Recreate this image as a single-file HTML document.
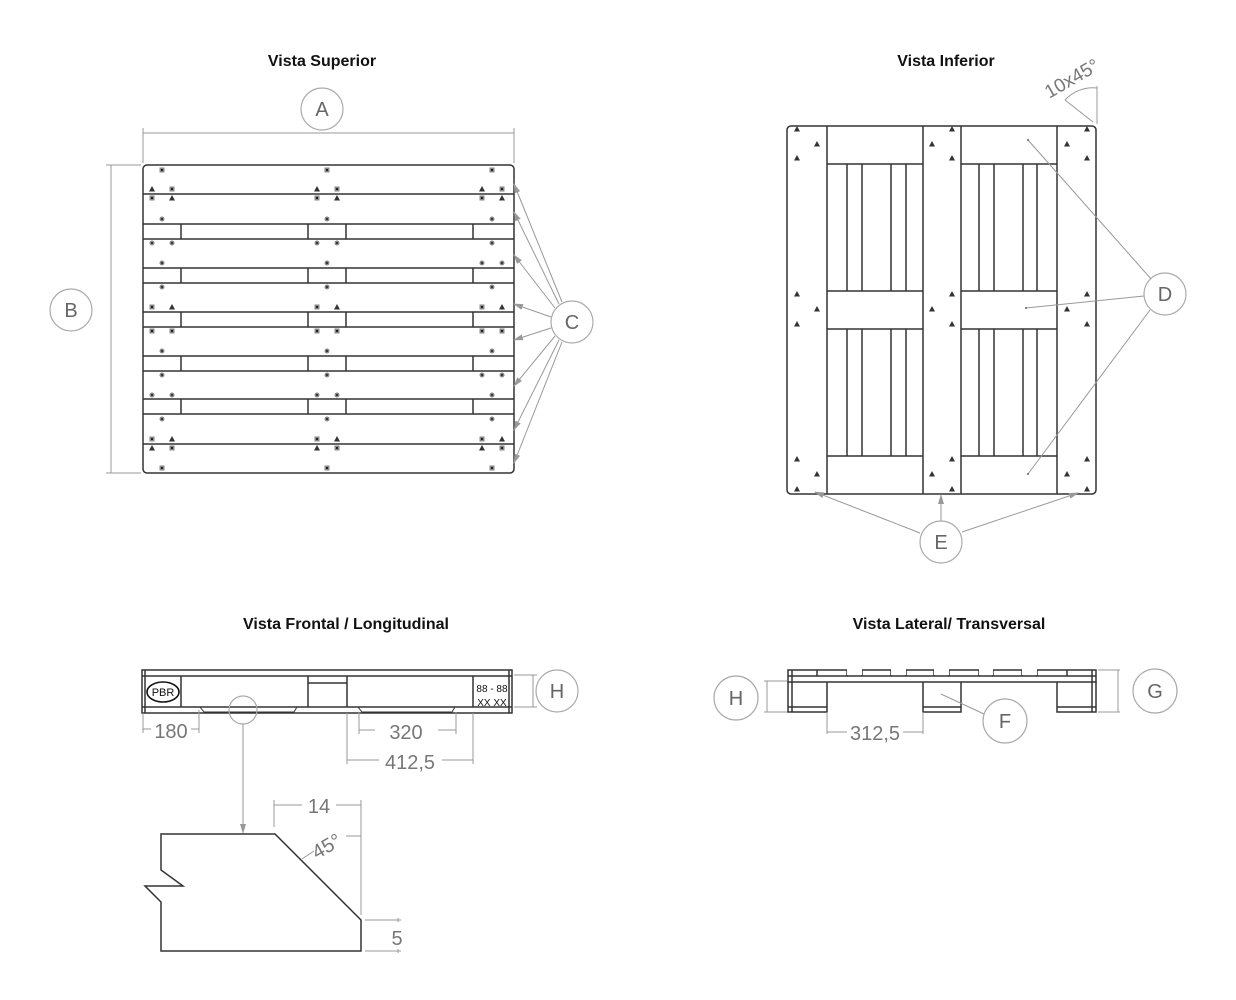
<!DOCTYPE html>
<html><head><meta charset="utf-8"><style>
html,body{margin:0;padding:0;background:#fff;}
svg{display:block;}
.t{font-family:"Liberation Sans",sans-serif;font-weight:bold;font-size:16px;fill:#111;text-anchor:middle;}
.c{fill:#fff;stroke:#aaa;stroke-width:1.2;}
.cl{font-family:"Liberation Sans",sans-serif;font-size:20px;fill:#666;text-anchor:middle;}
.d{font-family:"Liberation Sans",sans-serif;font-size:20px;fill:#777;text-anchor:middle;}
.k{stroke:#333;stroke-width:1.5;fill:none;}
.g{stroke:#999;stroke-width:1;fill:none;}
</style></head><body>
<svg width="1236" height="1000" viewBox="0 0 1236 1000" xmlns="http://www.w3.org/2000/svg">
<defs>
<marker id="ar" markerWidth="10" markerHeight="6" refX="9" refY="3" orient="auto" markerUnits="userSpaceOnUse"><path d="M0,0 L10,3 L0,6z" fill="#999"/></marker>
<g id="sq"><rect x="-2.5" y="-2.5" width="5" height="5" fill="#888"/><rect x="-1" y="-1" width="2" height="2" fill="#222"/></g>
<g id="dt"><circle r="2.5" fill="#888"/><circle r="1" fill="#222"/></g>
<g id="tr"><path d="M0,-3 L3,2.5 L-3,2.5z" fill="#333"/></g>
</defs>

<text class="t" x="322" y="66">Vista Superior</text>
<text class="t" x="946" y="66">Vista Inferior</text>
<text class="t" x="346" y="629">Vista Frontal / Longitudinal</text>
<text class="t" x="949" y="629">Vista Lateral/ Transversal</text>

<!-- ===== Vista Superior ===== -->
<line class="g" x1="143" y1="133" x2="514" y2="133"/>
<line class="g" x1="143" y1="128" x2="143" y2="163"/>
<line class="g" x1="514" y1="128" x2="514" y2="163"/>
<circle class="c" cx="322" cy="109" r="21"/><text class="cl" x="322" y="116">A</text>
<line class="g" x1="111" y1="165" x2="111" y2="473"/>
<line class="g" x1="106" y1="165" x2="141" y2="165"/>
<line class="g" x1="106" y1="473" x2="141" y2="473"/>
<circle class="c" cx="71" cy="310" r="21"/><text class="cl" x="71" y="317">B</text>
<rect class="k" x="143" y="165" width="371" height="308" rx="4"/>
<g class="k">
<line x1="143" y1="194" x2="514" y2="194"/>
<line x1="143" y1="224" x2="514" y2="224"/><line x1="143" y1="239" x2="514" y2="239"/>
<line x1="143" y1="268" x2="514" y2="268"/><line x1="143" y1="283" x2="514" y2="283"/>
<line x1="143" y1="312" x2="514" y2="312"/><line x1="143" y1="327" x2="514" y2="327"/>
<line x1="143" y1="356" x2="514" y2="356"/><line x1="143" y1="371" x2="514" y2="371"/>
<line x1="143" y1="399" x2="514" y2="399"/><line x1="143" y1="414" x2="514" y2="414"/>
<line x1="143" y1="444" x2="514" y2="444"/>
<path d="M181,224v15M308,224v15M346,224v15M473,224v15 M181,268v15M308,268v15M346,268v15M473,268v15 M181,312v15M308,312v15M346,312v15M473,312v15 M181,356v15M308,356v15M346,356v15M473,356v15 M181,399v15M308,399v15M346,399v15M473,399v15"/>
</g>
<g>
<use href="#sq" x="162" y="170"/><use href="#sq" x="327" y="170"/><use href="#sq" x="492" y="170"/>
<use href="#tr" x="152" y="189"/><use href="#sq" x="172" y="189"/><use href="#tr" x="317" y="189"/><use href="#sq" x="337" y="189"/><use href="#tr" x="482" y="189"/><use href="#sq" x="502" y="189"/>
<use href="#sq" x="152" y="198"/><use href="#tr" x="172" y="198"/><use href="#sq" x="317" y="198"/><use href="#tr" x="337" y="198"/><use href="#sq" x="482" y="198"/><use href="#tr" x="502" y="198"/>
<use href="#dt" x="162" y="219"/><use href="#dt" x="327" y="219"/><use href="#dt" x="492" y="219"/>
<use href="#dt" x="152" y="243"/><use href="#dt" x="172" y="243"/><use href="#dt" x="317" y="243"/><use href="#dt" x="337" y="243"/><use href="#dt" x="492" y="243"/>
<use href="#dt" x="162" y="263"/><use href="#dt" x="327" y="263"/><use href="#dt" x="482" y="263"/><use href="#dt" x="502" y="263"/>
<use href="#dt" x="162" y="287"/><use href="#dt" x="327" y="287"/><use href="#dt" x="492" y="287"/>
<use href="#sq" x="152" y="307"/><use href="#tr" x="172" y="307"/><use href="#sq" x="317" y="307"/><use href="#tr" x="337" y="307"/><use href="#sq" x="482" y="307"/><use href="#tr" x="502" y="307"/>
<use href="#sq" x="152" y="331"/><use href="#sq" x="172" y="331"/><use href="#sq" x="317" y="331"/><use href="#sq" x="337" y="331"/><use href="#sq" x="482" y="331"/><use href="#sq" x="502" y="331"/>
<use href="#dt" x="162" y="351"/><use href="#dt" x="327" y="351"/><use href="#dt" x="492" y="351"/>
<use href="#dt" x="162" y="375"/><use href="#dt" x="327" y="375"/><use href="#dt" x="482" y="375"/><use href="#dt" x="502" y="375"/>
<use href="#dt" x="152" y="395"/><use href="#dt" x="172" y="395"/><use href="#dt" x="317" y="395"/><use href="#dt" x="337" y="395"/><use href="#dt" x="492" y="395"/>
<use href="#dt" x="162" y="419"/><use href="#dt" x="327" y="419"/><use href="#dt" x="492" y="419"/>
<use href="#sq" x="152" y="439"/><use href="#tr" x="172" y="439"/><use href="#sq" x="317" y="439"/><use href="#tr" x="337" y="439"/><use href="#sq" x="482" y="439"/><use href="#tr" x="502" y="439"/>
<use href="#tr" x="152" y="448"/><use href="#sq" x="172" y="448"/><use href="#tr" x="317" y="448"/><use href="#sq" x="337" y="448"/><use href="#tr" x="482" y="448"/><use href="#sq" x="502" y="448"/>
<use href="#sq" x="162" y="468"/><use href="#sq" x="327" y="468"/><use href="#sq" x="492" y="468"/>
</g>
<g class="g" marker-end="url(#ar)">
<line x1="562" y1="302" x2="514" y2="184"/><line x1="559" y1="304" x2="514" y2="212"/>
<line x1="555" y1="308" x2="514" y2="255"/><line x1="551" y1="317" x2="514" y2="304"/>
<line x1="551" y1="328" x2="514" y2="340"/><line x1="555" y1="336" x2="514" y2="386"/>
<line x1="559" y1="340" x2="514" y2="430"/><line x1="562" y1="342" x2="514" y2="463"/>
</g>
<circle class="c" cx="572" cy="322" r="21"/><text class="cl" x="572" y="329">C</text>

<!-- ===== Vista Inferior ===== -->
<rect class="k" x="787" y="126" width="309" height="368" rx="4"/>
<g class="k">
<path d="M827,126v368M923,126v368M961,126v368M1057,126v368"/>
<path d="M827,164h96M827,291h96M827,329h96M827,456h96M961,164h96M961,291h96M961,329h96M961,456h96"/>
<path d="M847,164v127M862,164v127M891,164v127M906,164v127M847,329v127M862,329v127M891,329v127M906,329v127"/>
<path d="M979,164v127M994,164v127M1023,164v127M1037,164v127M979,329v127M994,329v127M1023,329v127M1037,329v127"/>
</g>
<g>
<use href="#tr" x="797" y="129"/><use href="#tr" x="817" y="144"/><use href="#tr" x="797" y="158"/>
<use href="#tr" x="952" y="129"/><use href="#tr" x="932" y="144"/><use href="#tr" x="952" y="158"/>
<use href="#tr" x="1087" y="129"/><use href="#tr" x="1067" y="144"/><use href="#tr" x="1087" y="158"/>
<use href="#tr" x="797" y="294"/><use href="#tr" x="817" y="309"/><use href="#tr" x="797" y="324"/>
<use href="#tr" x="952" y="294"/><use href="#tr" x="932" y="309"/><use href="#tr" x="952" y="324"/>
<use href="#tr" x="1087" y="294"/><use href="#tr" x="1067" y="309"/><use href="#tr" x="1087" y="324"/>
<use href="#tr" x="797" y="459"/><use href="#tr" x="817" y="474"/><use href="#tr" x="797" y="489"/>
<use href="#tr" x="952" y="459"/><use href="#tr" x="932" y="474"/><use href="#tr" x="952" y="489"/>
<use href="#tr" x="1087" y="459"/><use href="#tr" x="1067" y="474"/><use href="#tr" x="1087" y="489"/>
</g>
<g class="g">
<line x1="1028" y1="140" x2="1152" y2="280"/><line x1="1026" y1="308" x2="1144" y2="296"/><line x1="1028" y1="474" x2="1150" y2="310"/>
</g>
<circle cx="1028" cy="140" r="1" fill="#666"/><circle cx="1026" cy="308" r="1" fill="#666"/><circle cx="1028" cy="474" r="1" fill="#666"/>
<circle class="c" cx="1165" cy="294" r="21"/><text class="cl" x="1165" y="301">D</text>
<g class="g" marker-end="url(#ar)">
<line x1="920" y1="533" x2="815" y2="492"/><line x1="941" y1="521" x2="941" y2="495"/><line x1="962" y1="532" x2="1078" y2="493"/>
</g>
<circle class="c" cx="941" cy="542" r="21"/><text class="cl" x="941" y="549">E</text>
<line class="g" x1="1097" y1="124" x2="1097" y2="86"/>
<line class="g" x1="1093" y1="122" x2="1065" y2="100"/>
<path class="g" d="M1065,100 A38,38 0 0 1 1097,88"/>
<text class="d" x="1075" y="84" transform="rotate(-30 1075 84)" style="font-size:19px">10x45°</text>

<!-- ===== Vista Frontal ===== -->
<g class="k">
<rect x="142" y="670" width="370" height="43"/>
<path d="M145,670v43M509,670v43"/>
<line x1="142" y1="676" x2="512" y2="676"/>
<line x1="142" y1="707" x2="512" y2="707"/>
<path d="M181,676v31M308,676v31M347,676v31M473,676v31M308,683h39"/>
</g>
<path class="k" style="stroke-width:1" d="M200,707l4,5h90l3,-5M358,707l4,5h90l3,-5"/>
<ellipse cx="163" cy="692" rx="16" ry="10" fill="none" stroke="#111" stroke-width="1.6"/>
<text x="163" y="696" style="font-family:'Liberation Sans',sans-serif;font-size:11px;text-anchor:middle;fill:#111">PBR</text>
<text x="492" y="692" style="font-family:'Liberation Sans',sans-serif;font-size:10px;text-anchor:middle;fill:#111">88 - 88</text>
<text x="492" y="706" style="font-family:'Liberation Sans',sans-serif;font-size:10px;text-anchor:middle;fill:#111">XX XX</text>
<g class="g">
<path d="M514,675h23M514,707h23M533,675v32"/>
<path d="M143,713v20M199,710v23M143,729h8M191,729h8"/>
<path d="M359,712v22M456,712v22M359,730h16M438,730h18"/>
<path d="M347,713v51M473,713v51M347,760h32M442,760h31"/>
</g>
<circle class="c" cx="557" cy="691" r="21"/><text class="cl" x="557" y="698">H</text>
<text class="d" x="171" y="738">180</text>
<text class="d" x="406" y="739">320</text>
<text class="d" x="410" y="769">412,5</text>
<circle class="c" cx="243" cy="710" r="14" style="fill:none"/>
<line class="g" x1="243" y1="724" x2="243" y2="833" marker-end="url(#ar)"/>
<path class="k" d="M161,834H275L361,920V951H161V902L145,886H183L161,870Z"/>
<g class="g">
<path d="M274,800v27M361,800v115M274,805h28M336,805h25"/>
<path d="M346,836h15M302,859l12,-8"/>
<path d="M365,920h36M365,951h36M398,918v4M398,949v4"/>
</g>
<text class="d" x="319" y="813">14</text>
<text class="d" x="330" y="852" transform="rotate(-30 330 852)">45°</text>
<text class="d" x="397" y="945">5</text>

<!-- ===== Vista Lateral ===== -->
<g class="k">
<rect x="788" y="670" width="308" height="12"/>
<path d="M792,670v42M1092,670v42M788,676h308"/>
<path d="M817,670v6M847,670v6M862,670v6M891,670v6M906,670v6M934,670v6M949,670v6M979,670v6M993,670v6M1022,670v6M1037,670v6M1067,670v6"/>
<path d="M788,682v30h39v-30M923,682v30h38v-30M1057,682v30h39v-30"/>
<path d="M788,707h39M923,707h38M1057,707h39"/>
</g>
<rect x="847" y="669" width="15" height="6" fill="#fff"/><rect x="891" y="669" width="15" height="6" fill="#fff"/><rect x="934" y="669" width="15" height="6" fill="#fff"/><rect x="979" y="669" width="14" height="6" fill="#fff"/><rect x="1022" y="669" width="15" height="6" fill="#fff"/>
<g class="g">
<path d="M764,681h23M764,712h23M767,681v31"/>
<path d="M1098,670h22M1098,712h22M1118,670v42"/>
<path d="M827,712v22M923,712v22M827,732h20M903,732h20"/>
<path d="M941,694l43,20"/>
</g>
<circle class="c" cx="736" cy="698" r="22"/><text class="cl" x="736" y="705">H</text>
<circle class="c" cx="1155" cy="691" r="22"/><text class="cl" x="1155" y="698">G</text>
<circle class="c" cx="1005" cy="721" r="22"/><text class="cl" x="1005" y="728">F</text>
<text class="d" x="875" y="740">312,5</text>
</svg>
</body></html>
